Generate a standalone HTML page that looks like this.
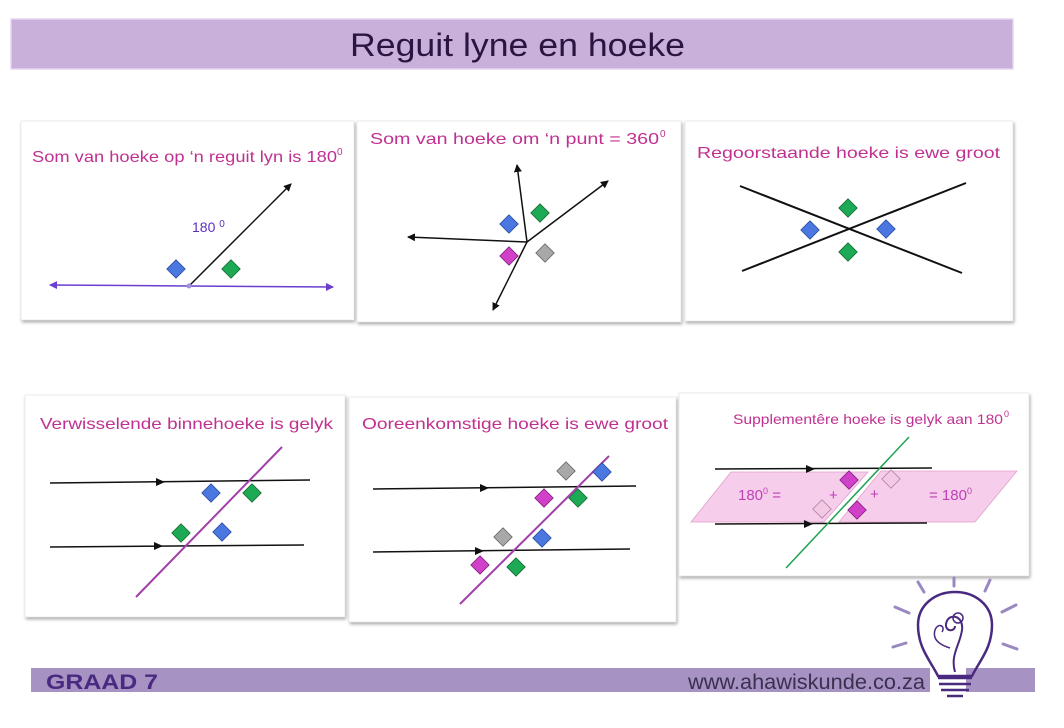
<!DOCTYPE html>
<html><head><meta charset="utf-8"><style>
html,body{margin:0;padding:0;background:#fff;width:1064px;height:728px;overflow:hidden}
svg text{font-family:"Liberation Sans",sans-serif}
</style></head><body>
<svg width="1064" height="728" viewBox="0 0 1064 728" xmlns="http://www.w3.org/2000/svg">
<defs>
<marker id="ar" markerWidth="8" markerHeight="8" refX="7" refY="4" orient="auto" markerUnits="userSpaceOnUse"><path d="M0,0 L8,4 L0,8 z" fill="#111"/></marker>
<marker id="arp" markerWidth="8" markerHeight="8" refX="7" refY="4" orient="auto" markerUnits="userSpaceOnUse"><path d="M0,0 L8,4 L0,8 z" fill="#6a3fd0"/></marker>
<marker id="mid" markerWidth="9" markerHeight="8" refX="4" refY="4" orient="auto" markerUnits="userSpaceOnUse"><path d="M0,0 L9,4 L0,8 z" fill="#111"/></marker>
<filter id="sh" x="-5%" y="-5%" width="110%" height="115%"><feDropShadow dx="1" dy="2" stdDeviation="1.5" flood-color="#000" flood-opacity="0.35"/></filter>
<g id="db"><rect x="-6.5" y="-6.5" width="13" height="13" transform="rotate(45)" fill="#4a78e0" stroke="#2a4aa0" stroke-width="0.8"/></g>
<g id="dg"><rect x="-6.5" y="-6.5" width="13" height="13" transform="rotate(45)" fill="#1eaa55" stroke="#106a30" stroke-width="0.8"/></g>
<g id="dm"><rect x="-6.5" y="-6.5" width="13" height="13" transform="rotate(45)" fill="#d040c8" stroke="#80207a" stroke-width="0.8"/></g>
<g id="dy"><rect x="-6.5" y="-6.5" width="13" height="13" transform="rotate(45)" fill="#a8a8a8" stroke="#666" stroke-width="0.8"/></g>
<g id="dp"><rect x="-6.5" y="-6.5" width="13" height="13" transform="rotate(45)" fill="#f3c8e4" stroke="#b080a0" stroke-width="0.8"/></g>
</defs>

<rect x="11" y="19" width="1002" height="50" fill="#c8b0da" stroke="#e3d6ee" stroke-width="1.5"/>
<text x="350" y="56" font-size="32" fill="#2a1440" textLength="335" lengthAdjust="spacingAndGlyphs">Reguit lyne en hoeke</text>

<g filter="url(#sh)" fill="#fff" stroke="#ddd" stroke-width="0.5">
<rect x="21" y="121" width="333" height="199"/>
<rect x="357" y="121" width="324" height="201"/>
<rect x="685" y="121" width="328" height="200"/>
<rect x="25" y="395" width="320" height="222"/>
<rect x="349" y="397" width="327" height="225"/>
<rect x="679" y="393" width="350" height="183"/>
</g>

<!-- panel 1 -->
<text x="32" y="162" font-size="16" fill="#c03090" textLength="305" lengthAdjust="spacingAndGlyphs">Som van hoeke op ‘n reguit lyn is 180</text>
<text x="337" y="155" font-size="10" fill="#c03090">0</text>
<line x1="189" y1="286" x2="333" y2="287" stroke="#6a3fd0" stroke-width="1.5" marker-end="url(#arp)"/>
<line x1="189" y1="286" x2="50" y2="285" stroke="#6a3fd0" stroke-width="1.5" marker-end="url(#arp)"/>
<line x1="189" y1="286" x2="291" y2="184" stroke="#111" stroke-width="1.5" marker-end="url(#ar)"/>
<circle cx="189" cy="286" r="2.5" fill="#a090e0"/>
<text x="192" y="232" font-size="14" fill="#5a30c0">180 <tspan font-size="10" dy="-5">0</tspan></text>
<use href="#db" x="176" y="269"/><use href="#dg" x="231" y="269"/>

<!-- panel 2 -->
<text x="370" y="144" font-size="16" fill="#c03090" textLength="289" lengthAdjust="spacingAndGlyphs">Som van hoeke om ‘n punt = 360</text>
<text x="660" y="137" font-size="10" fill="#c03090">0</text>
<line x1="527" y1="242" x2="408" y2="237" stroke="#111" stroke-width="1.5" marker-end="url(#ar)"/>
<line x1="527" y1="242" x2="608" y2="181" stroke="#111" stroke-width="1.5" marker-end="url(#ar)"/>
<line x1="527" y1="242" x2="517" y2="165" stroke="#111" stroke-width="1.5" marker-end="url(#ar)"/>
<line x1="527" y1="242" x2="493" y2="310" stroke="#111" stroke-width="1.5" marker-end="url(#ar)"/>
<use href="#db" x="509" y="224"/><use href="#dg" x="540" y="213"/><use href="#dm" x="509" y="256"/><use href="#dy" x="545" y="253"/>

<!-- panel 3 -->
<text x="697" y="158" font-size="16" fill="#c03090" textLength="303" lengthAdjust="spacingAndGlyphs">Regoorstaande hoeke is ewe groot</text>
<line x1="740" y1="186" x2="962" y2="273" stroke="#111" stroke-width="2"/>
<line x1="742" y1="271" x2="966" y2="183" stroke="#111" stroke-width="2"/>
<use href="#dg" x="848" y="208"/><use href="#dg" x="848" y="252"/><use href="#db" x="810" y="230"/><use href="#db" x="886" y="229"/>

<!-- panel 4 -->
<text x="40" y="429" font-size="16" fill="#c03090" textLength="293" lengthAdjust="spacingAndGlyphs">Verwisselende binnehoeke is gelyk</text>
<line x1="50" y1="483" x2="310" y2="480" stroke="#111" stroke-width="1.5"/>
<line x1="50" y1="483" x2="160" y2="482" stroke="#111" stroke-width="0" marker-end="url(#mid)"/>
<line x1="50" y1="547" x2="304" y2="545" stroke="#111" stroke-width="1.5"/>
<line x1="50" y1="547" x2="158" y2="546" stroke="#111" stroke-width="0" marker-end="url(#mid)"/>
<line x1="136" y1="597" x2="282" y2="447" stroke="#a040a8" stroke-width="2"/>
<use href="#db" x="211" y="493"/><use href="#dg" x="252" y="493"/><use href="#dg" x="181" y="533"/><use href="#db" x="222" y="532"/>

<!-- panel 5 -->
<text x="362" y="429" font-size="16" fill="#c03090" textLength="306" lengthAdjust="spacingAndGlyphs">Ooreenkomstige hoeke is ewe groot</text>
<line x1="373" y1="489" x2="636" y2="486" stroke="#111" stroke-width="1.5"/>
<line x1="373" y1="489" x2="484" y2="488" stroke="#111" stroke-width="0" marker-end="url(#mid)"/>
<line x1="373" y1="552" x2="630" y2="549" stroke="#111" stroke-width="1.5"/>
<line x1="373" y1="552" x2="479" y2="551" stroke="#111" stroke-width="0" marker-end="url(#mid)"/>
<line x1="460" y1="604" x2="609" y2="456" stroke="#a040a8" stroke-width="2"/>
<use href="#dy" x="566" y="471"/><use href="#db" x="602" y="472"/><use href="#dm" x="544" y="498"/><use href="#dg" x="578" y="498"/>
<use href="#dy" x="503" y="537"/><use href="#db" x="542" y="538"/><use href="#dm" x="480" y="565"/><use href="#dg" x="516" y="567"/>

<!-- panel 6 -->
<text x="733" y="424" font-size="14" fill="#c03090" textLength="270" lengthAdjust="spacingAndGlyphs">Supplementêre hoeke is gelyk aan 180</text>
<text x="1004" y="417" font-size="9" fill="#c03090">0</text>
<polygon points="691,522 731,472 868,472 824,522" fill="#f6cdea" stroke="#e0a0cc" stroke-width="0.8"/>
<polygon points="839,522 881,471 1017,471 975,522" fill="#f6cdea" stroke="#e0a0cc" stroke-width="0.8"/>
<line x1="715" y1="469" x2="932" y2="468" stroke="#111" stroke-width="1.5"/>
<line x1="715" y1="469" x2="810" y2="469" stroke="#111" stroke-width="0" marker-end="url(#mid)"/>
<line x1="715" y1="524" x2="927" y2="523" stroke="#111" stroke-width="1.5"/>
<line x1="715" y1="524" x2="808" y2="524" stroke="#111" stroke-width="0" marker-end="url(#mid)"/>
<line x1="786" y1="568" x2="909" y2="437" stroke="#1ea050" stroke-width="1.5"/>
<text x="738" y="500" font-size="15" fill="#c040b8">180<tspan font-size="9" dy="-6">0</tspan><tspan dy="6"> =</tspan></text>
<text x="829" y="500" font-size="15" fill="#c040b8">+</text>
<text x="870" y="499" font-size="15" fill="#c040b8">+</text>
<text x="929" y="500" font-size="15" fill="#c040b8">= 180<tspan font-size="9" dy="-6">0</tspan></text>
<use href="#dm" x="849" y="480"/><use href="#dp" x="891" y="479"/><use href="#dp" x="822" y="509"/><use href="#dm" x="857" y="510"/>

<!-- footer -->
<rect x="31" y="668" width="1004" height="24" fill="#a692c3"/>
<text x="46" y="689" font-size="21" font-weight="bold" fill="#4a2a80" textLength="112" lengthAdjust="spacingAndGlyphs">GRAAD 7</text>
<text x="688" y="689" font-size="21" fill="#3a3050" textLength="237" lengthAdjust="spacingAndGlyphs">www.ahawiskunde.co.za</text>

<!-- bulb logo -->
<rect x="930" y="667" width="36" height="25" fill="#fff"/>
<g stroke="#9a88c0" stroke-width="3" fill="none" stroke-linecap="round">
<line x1="918" y1="582" x2="924" y2="592"/><line x1="954" y1="578" x2="954" y2="586"/><line x1="990" y1="580" x2="985" y2="591"/>
<line x1="895" y1="607" x2="909" y2="613"/><line x1="1016" y1="605" x2="1002" y2="612"/>
<line x1="893" y1="647" x2="906" y2="643"/><line x1="1017" y1="649" x2="1003" y2="644"/>
</g>
<g stroke="#4a2a80" stroke-width="2.5" fill="none">
<path d="M938,676 C930,660 918,648 918,625 C918,605 935,592 955,592 C975,592 992,605 992,625 C992,648 980,660 972,676 Z"/>
<path d="M938,678 h34 M939,684 h32 M941,690 h28 M947,696 h16"/>
<path d="M955,672 C950,655 960,645 962,630 C964,615 948,612 946,624 C945,632 955,632 955,626" stroke-width="2"/>
<path d="M950,648 C940,645 932,640 935,630 C938,622 946,626 942,632" stroke-width="1.5"/>
<circle cx="958" cy="618" r="5" stroke-width="1.5"/>
</g>
</svg>
</body></html>
